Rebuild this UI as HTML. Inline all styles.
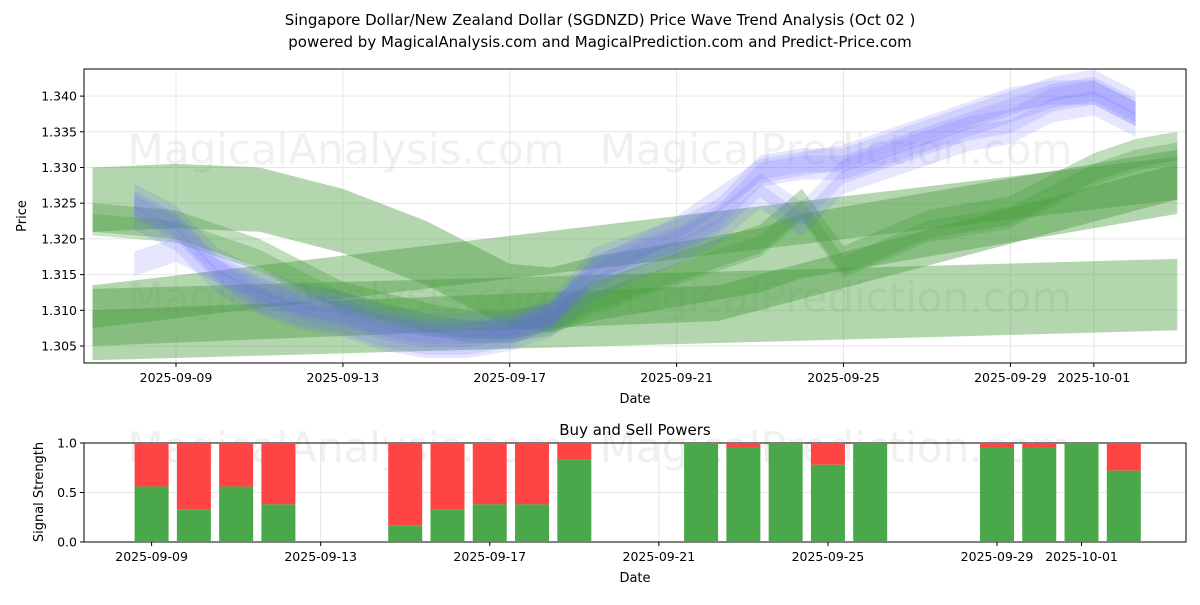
<!DOCTYPE html>
<html><head><meta charset="utf-8"><style>
body{margin:0;background:#fff;font-family:"Liberation Sans","DejaVu Sans",sans-serif}
svg text{font-family:"DejaVu Sans","Liberation Sans",sans-serif}
</style></head><body>
<svg id="c" width="1200" height="600" viewBox="0 0 1200 600">
<text x="600" y="25" text-anchor="middle" font-size="15">Singapore Dollar/New Zealand Dollar (SGDNZD) Price Wave Trend Analysis (Oct 02 )</text>
<text x="600" y="47" text-anchor="middle" font-size="15">powered by MagicalAnalysis.com and MagicalPrediction.com and Predict-Price.com</text>
<g id="topPanel"></g>
<g id="botPanel"></g>
</svg>
<script>
// ---- data ----
const priceTicks = [1.305,1.310,1.315,1.320,1.325,1.330,1.335,1.340];
const dateTicks = ["2025-09-09","2025-09-13","2025-09-17","2025-09-21","2025-09-25","2025-09-29","2025-10-01"];
const dateTickDays = [0,4,8,12,16,20,22];
const blueDays = [-1,0,1,2,3,4,5,6,7,8,9,10,11,12,13,14,15,16,17,18,19,20,21,22,23];
const blueA = [1.325,1.322,1.316,1.313,1.311,1.310,1.308,1.307,1.307,1.307,1.309,1.316,1.318,1.320,1.323,1.329,1.330,1.330,1.332,1.334,1.336,1.338,1.340,1.341,1.338];
const blueB = [1.324,1.321,1.315,1.312,1.310,1.309,1.307,1.306,1.306,1.307,1.309,1.314,1.317,1.319,1.322,1.327,1.323,1.329,1.331,1.333,1.335,1.336,1.339,1.340,1.337];
const blueC = [1.317,1.319,1.316,1.312,1.310,1.309,1.307,1.306,1.306,1.307,1.310,1.316,1.319,1.322,1.326,1.330,1.331,1.332,1.334,1.336,1.338,1.340,1.341,1.341,1.338];
const greenDays = [-2,0,2,4,6,7,8,9,10,12,14,15,16,18,20,22,23,24];
const greenWave = [1.323,1.322,1.318,1.312,1.309,1.308,1.308,1.309,1.312,1.316,1.320,1.325,1.317,1.322,1.324,1.330,1.332,1.333];
const greenArc = [1.3255,1.326,1.3255,1.3225,1.318,1.315,1.312,1.3115,1.313,1.315,1.317,1.319,1.320,1.322,1.324,1.326,1.327,1.328];
const greenLineStart = [-2,1.3105], greenLineEnd = [24,1.3285];
const greenLowStart = [-2,1.308], greenLowEnd = [24,1.3122];
const greenThinStart = [-2,1.3075], greenThinMid = [13,1.311], greenThinEnd = [24,1.328];
const sigDays = [0,1,2,3,6,7,8,9,10,13,14,15,16,17,20,21,22,23];
const buyVals = [0.56,0.33,0.56,0.38,0.17,0.33,0.38,0.38,0.83,1.0,0.95,1.0,0.78,1.0,0.95,0.95,1.0,0.72];
// ---- axes ----
const NS="http://www.w3.org/2000/svg";
const L=84,R=1186,T1=69,B1=363,T2=443,B2=542;
const x=d=>176+d*41.72;
const xb=d=>151.6+d*42.27;
const y=p=>346-(p-1.305)/0.005*35.7;
const y2=v=>B2-v*(B2-T2);
function mk(tag,at,parent){const e=document.createElementNS(NS,tag);for(const k in at)e.setAttribute(k,at[k]);parent.appendChild(e);return e;}
const topG=document.getElementById('topPanel'), botG=document.getElementById('botPanel');
const clip=mk('clipPath',{id:'cp'},topG);mk('rect',{x:L,y:T1,width:R-L,height:B1-T1},clip);
const clip2=mk('clipPath',{id:'cp2'},botG);mk('rect',{x:L,y:T2,width:R-L,height:B2-T2},clip2);
priceTicks.forEach(p=>{const g=mk('line',{x1:L,x2:R,y1:y(p),y2:y(p),stroke:'#e6e6e6'},topG);

});
dateTickDays.forEach(d=>{mk('line',{x1:x(d),x2:x(d),y1:T1,y2:B1,stroke:'#e6e6e6'},topG);mk('line',{x1:xb(d),x2:xb(d),y1:T2,y2:B2,stroke:'#e6e6e6'},botG);});
[0,0.5,1].forEach(v=>mk('line',{x1:L,x2:R,y1:y2(v),y2:y2(v),stroke:'#e6e6e6'},botG));
[[346,150,topG],[836,150,topG],[346,298,topG],[836,298,topG],[346,448,botG],[836,448,botG]].forEach(w=>{
const t=mk('text',{x:w[0],y:w[1]+14,'text-anchor':'middle','font-size':42,fill:'#ccc','fill-opacity':0.3},w[2]);t.textContent=w[0]<500?'MagicalAnalysis.com':'MagicalPrediction.com';

});
const g1=mk('g',{'clip-path':'url(#cp)'},topG);
function band(days,vals,hw,color,op,name,dy){
 let up=days.map((d,i)=>x(d)+','+y(vals[i]+hw+(dy||0)));
 let dn=days.map((d,i)=>x(d)+','+y(vals[i]-hw+(dy||0))).reverse();
 const p=mk('polygon',{points:up.concat(dn).join(' '),fill:color,'fill-opacity':op},g1);
 
 }
function lineBand(pts,hw,name){band(pts.map(p=>p[0]),pts.map(p=>p[1]),hw,'#4a9e40',0.42,name);}
lineBand([greenLowStart,greenLowEnd],0.005,'green-low-band');
lineBand([greenLineStart,greenLineEnd],0.003,'green-trend-band');
lineBand([greenThinStart,greenThinMid,greenThinEnd],0.0025,'green-rising-band');
band(greenDays,greenArc,0.0045,'#4a9e40',0.42,'green-arc-band');
band(greenDays,greenWave,0.002,'#4a9e40',0.35,'green-wave-band');
band(greenDays,greenWave,0.0015,'#4a9e40',0.3,'green-wave-band-2',-0.001);
[[blueA,0],[blueB,0.0005],[blueC,-0.0005],[blueA,0.001],[blueB,-0.001]].forEach((b,i)=>band(blueDays,b[0],0.0017,'#6666ff',0.16,'blue-wave-band-'+i,b[1]));
[[T1,B1,topG],[T2,B2,botG]].forEach(f=>mk('rect',{x:L,y:f[0],width:R-L,height:f[1]-f[0],fill:'none',stroke:'#000'},f[2]));
priceTicks.forEach(p=>{mk('line',{x1:L-4,x2:L,y1:y(p),y2:y(p),stroke:'#000'},topG);
const t=mk('text',{x:L-7,y:y(p)+4.5,'text-anchor':'end','font-size':12.5},topG);t.textContent=p.toFixed(3);

});
dateTicks.forEach((s,i)=>{const d=dateTickDays[i];
[[B1,topG,x],[B2,botG,xb]].forEach(a=>{const xx=a[2](d);mk('line',{x1:xx,x2:xx,y1:a[0],y2:a[0]+4,stroke:'#000'},a[1]);
const t=mk('text',{x:xx,y:a[0]+19,'text-anchor':'middle','font-size':12.5},a[1]);t.textContent=s;

});});
function lab(txt,xx,yy,rot,par,name,fs){const t=mk('text',{x:xx,y:yy,'text-anchor':'middle','font-size':fs||13},par);if(rot)t.setAttribute('transform',`rotate(-90 ${xx} ${yy})`);t.textContent=txt;

}
lab('Date',635,403,0,topG,'x-axis-title');lab('Price',26,216,1,topG,'y-axis-title');
lab('Date',635,582,0,botG,'x-axis-title-signal');lab('Signal Strength',43,492,1,botG,'y-axis-title-signal');
lab('Buy and Sell Powers',635,435,0,botG,'signal-title',15);
const g2=mk('g',{'clip-path':'url(#cp2)'},botG);
sigDays.forEach((d,i)=>{const v=buyVals[i],w=34;
const r1=mk('rect',{x:xb(d)-w/2,y:y2(1),width:w,height:y2(v)-y2(1),fill:'#ff4444'},g2);


const r2=mk('rect',{x:xb(d)-w/2,y:y2(v),width:w,height:y2(0)-y2(v),fill:'#4aa84a'},g2);

});
[0,0.5,1].forEach(v=>{mk('line',{x1:L-4,x2:L,y1:y2(v),y2:y2(v),stroke:'#000'},botG);
const t=mk('text',{x:L-7,y:y2(v)+4.5,'text-anchor':'end','font-size':12.5},botG);t.textContent=v.toFixed(1);

});
</script>
</body></html>
